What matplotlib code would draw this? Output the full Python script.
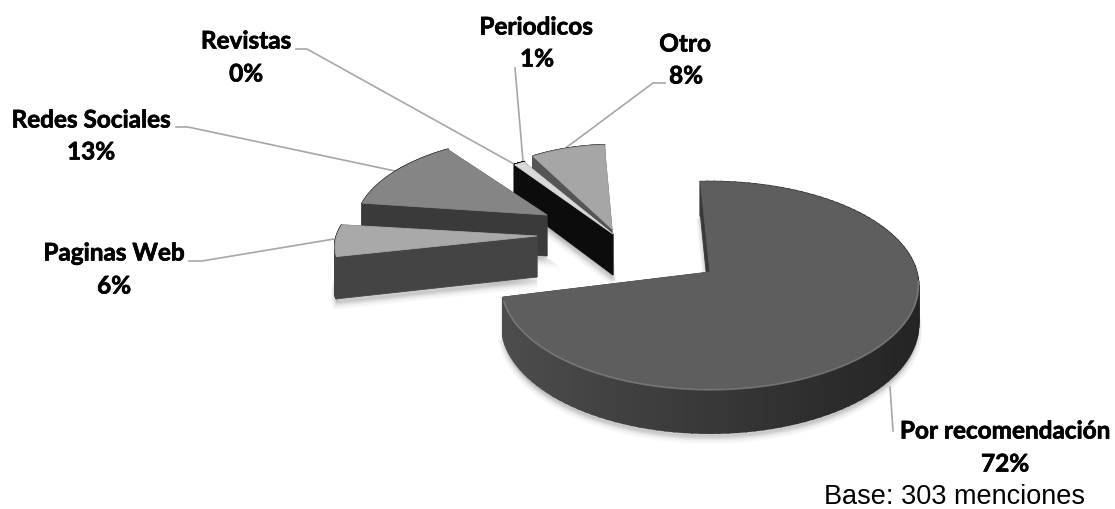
import numpy as np
from matplotlib import pyplot as plt
from matplotlib.patches import Polygon
import matplotlib.patheffects as pe

names = ["Por recomendación", "Paginas Web", "Redes Sociales", "Revistas", "Periodicos", "Otro"]
percent = [72, 6, 13, 0, 1, 8]
base_note = "Base: 303 menciones"

# layout of the exploded pie, in pixels
start_angle = -3
rx, ry, persp = 213, 102, 0.13
apex = [(710, 273), (537, 237), (547, 216), (613, 235), (613, 235), (612, 230)]
scale_x = [0.97, 0.94, 0.89, 0.90, 0.88, 0.78]
scale_y = [1.00, 0.82, 0.87, 0.92, 0.92, 0.93]
depth = [38, 41, 41, 41, 41, 41]
top_colors = ["#5e5e5e", "#a9a9a9", "#858585", "#d9d9d9", "#d9d9d9", "#a6a6a6"]
side_colors = ["#3a3a3a", "#444444", "#3a3a3a", "#0c0c0c", "#0c0c0c", "#555555"]
draw_order = [5, 3, 4, 2, 1, 0]

name_pos = [(1005, 432), (114, 254), (91, 121), (246, 42), (536, 28), (685, 45)]
pct_pos = [(1005, 465), (114, 287), (91, 153), (246, 75), (537, 60), (686, 77)]
leaders = [
    [(890, 388), (893, 432)],
    [(189, 262), (202, 262), (334, 240)],
    [(176, 128), (188, 128), (395, 172)],
    [(296, 50), (307, 50), (514, 165)],
    [(515, 69), (523, 162)],
    [(665, 84), (653, 84), (567, 148)],
]


def rim(i, theta):
    # point on the perspective circle, theta clockwise from the top in degrees
    t = np.radians(theta)
    w = 1 + persp * np.cos(t)
    x = apex[i][0] + scale_x[i] * rx * np.sin(t) / w
    y = apex[i][1] - scale_y[i] * ry * np.cos(t) / w
    return np.column_stack([x, y]), w


def draw_slice(ax, i, a0, a1):
    thetas = np.linspace(a0, a1, 120)
    pts, w = rim(i, thetas)
    ax0, ay0 = apex[i]
    drop = depth[i] / w
    side = side_colors[i]

    # cut faces
    for k in (-1, 0):
        face = [(ax0, ay0), tuple(pts[k]), (pts[k][0], pts[k][1] + drop[k]), (ax0, ay0 + depth[i])]
        ax.add_patch(Polygon(face, closed=True, fc=side, ec=side, lw=0.6, zorder=3))

    # outer wall, shaded from left to right on the big slice
    for n in range(len(thetas) - 1):
        p, q = pts[n], pts[n + 1]
        quad = [p, q, (q[0], q[1] + drop[n + 1]), (p[0], p[1] + drop[n])]
        col = side
        if i == 0:
            f = np.clip((p[0] - 503) / 420, 0, 1)
            col = str(0.30 - 0.16 * f)
        ax.add_patch(Polygon(quad, closed=True, fc=col, ec=col, lw=1.5, zorder=3))

    top = np.vstack([[(ax0, ay0)], pts])
    ax.add_patch(Polygon(top, closed=True, fc=top_colors[i], ec=top_colors[i], lw=0.6, zorder=3))

    # soft light edge along the front of the big slice
    if i == 0:
        front = (thetas > 95) & (thetas < a1)
        ax.plot(pts[front, 0], pts[front, 1] + 0.5, color="#868686", lw=1.2, alpha=0.7, zorder=3)


def draw_shadow(ax, i, a0, a1):
    thetas = np.linspace(a0, a1, 120)
    pts, w = rim(i, thetas)
    low = np.column_stack([pts[:, 0], pts[:, 1] + depth[i] / w])
    outline = np.vstack([[(apex[i][0], apex[i][1] + depth[i])], low])
    for n in range(1, 8):
        shifted = outline + [0, n]
        ax.add_patch(Polygon(shifted, closed=True, fc="black", ec="black", lw=n * 0.8,
                             alpha=0.022, zorder=1))


fig = plt.figure(figsize=(11.15, 5.10), dpi=100)
ax = fig.add_axes([0, 0, 1, 1])
ax.set_xlim(0, 1115)
ax.set_ylim(510, 0)
ax.axis("off")

cum = start_angle + np.concatenate([[0], np.cumsum(percent)]) * 3.6

for line in leaders:
    xs, ys = zip(*line)
    ax.plot(xs, ys, color="#a6a6a6", lw=1.2, zorder=2)

for i in range(len(percent)):
    if percent[i] > 0:
        draw_shadow(ax, i, cum[i], cum[i + 1])

for i in draw_order:
    if percent[i] > 0:
        draw_slice(ax, i, cum[i], cum[i + 1])

# slightly heavier bold for the labels
heavy = [pe.withStroke(linewidth=0.5, foreground="black")]
for i in range(len(names)):
    ax.text(name_pos[i][0], name_pos[i][1], names[i], family="Lato", fontweight="bold",
            fontsize=17.5, color="black", ha="center", va="center", zorder=5, path_effects=heavy)
    ax.text(pct_pos[i][0], pct_pos[i][1], "%d%%" % percent[i], family="Lato", fontweight="bold",
            fontsize=17.5, color="black", ha="center", va="center", zorder=5, path_effects=heavy)

ax.text(824, 497, base_note, family="Liberation Sans", fontsize=19.5, color="black",
        ha="left", va="center", zorder=5)

plt.savefig("out.png", dpi=100)
